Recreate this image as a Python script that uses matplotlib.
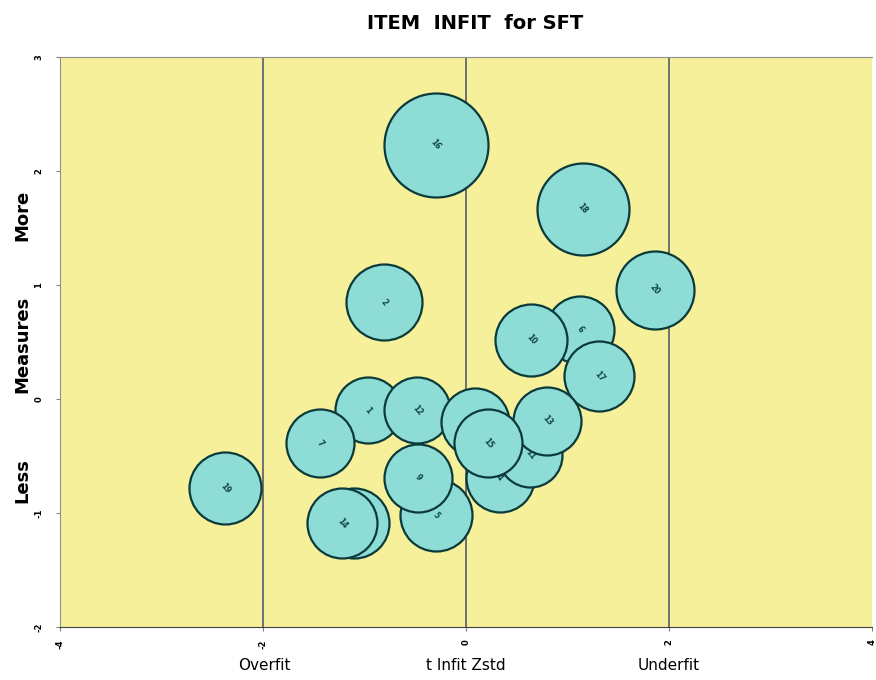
import matplotlib.pyplot as plt
import numpy as np

# items in drawing order (first = bottom)
items = ["6", "10", "17", "1", "12", "7", "3", "4", "11", "13", "15",
         "5", "9", "8", "14", "19", "2", "20", "18", "16"]
infit_zstd = np.array([1.12, 0.64, 1.31, -0.97, -0.48, -1.44, 0.09, 0.33, 0.63, 0.80, 0.22,
                       -0.30, -0.47, -1.10, -1.22, -2.37, -0.81, 1.86, 1.15, -0.30])
measure = np.array([0.61, 0.52, 0.20, -0.10, -0.10, -0.39, -0.20, -0.69, -0.49, -0.19, -0.39,
                    -1.02, -0.69, -1.09, -1.09, -0.78, 0.85, 0.96, 1.67, 2.23])
se = np.array([0.34, 0.36, 0.35, 0.33, 0.33, 0.34, 0.34, 0.34, 0.32, 0.34, 0.34,
               0.36, 0.34, 0.35, 0.35, 0.36, 0.38, 0.39, 0.46, 0.52])

x_ticks = [-4, -2, 0, 2, 4]
y_ticks = [-2, -1, 0, 1, 2, 3]

fig = plt.figure(figsize=(8.76, 6.8), dpi=100)
ax = fig.add_axes([0.0685, 0.078, 0.927, 0.838])
ax.set_facecolor("#f6f09a")
ax.set_xlim(-4, 4)
ax.set_ylim(-2, 3)

for xv in [-2, 0, 2]:
    ax.axvline(xv, color="#707070", lw=1.4, zorder=1)

# bubble diameter ~ 2*se*100 px
sizes = (2 * se * 100 * 0.72) ** 2
for i in range(len(items)):
    ax.scatter(infit_zstd[i], measure[i], s=sizes[i], color="#8edcd6",
               edgecolor="#0b3a3a", linewidth=1.6, zorder=2 + i)
    ax.text(infit_zstd[i], measure[i], items[i], fontsize=5.5, fontweight="bold",
            rotation=-50, color="#0f4444", ha="center", va="center", zorder=2 + i)

ax.set_xticks(x_ticks)
ax.set_yticks(y_ticks)
ax.set_xticklabels([str(v) for v in x_ticks], fontsize=6, rotation=90, fontweight="bold")
ax.set_yticklabels([str(v) for v in y_ticks], fontsize=6, rotation=90, va="center",
                   fontweight="bold")
ax.tick_params(axis="x", length=3, color="#808080", pad=6)
ax.tick_params(axis="y", length=3, color="#808080", pad=9)
for s in ["top", "left", "right"]:
    ax.spines[s].set_color("#909090")
ax.spines["right"].set_visible(False)
ax.spines["bottom"].set_color("#404040")
ax.spines["bottom"].set_linestyle((0, (3, 1)))

fig.text(0.542, 0.966, "ITEM  INFIT  for SFT", fontsize=14, fontweight="bold",
         ha="center", va="center")
fig.text(0.025, 0.683, "More", fontsize=13, fontweight="bold", rotation=90,
         ha="center", va="center")
fig.text(0.025, 0.493, "Measures", fontsize=13, fontweight="bold", rotation=90,
         ha="center", va="center")
fig.text(0.025, 0.294, "Less", fontsize=13, fontweight="bold", rotation=90,
         ha="center", va="center")
fig.text(0.302, 0.022, "Overfit", fontsize=11, ha="center", va="center")
fig.text(0.532, 0.022, "t Infit Zstd", fontsize=11, ha="center", va="center")
fig.text(0.763, 0.022, "Underfit", fontsize=11, ha="center", va="center")

fig.savefig("out.png", dpi=100)
